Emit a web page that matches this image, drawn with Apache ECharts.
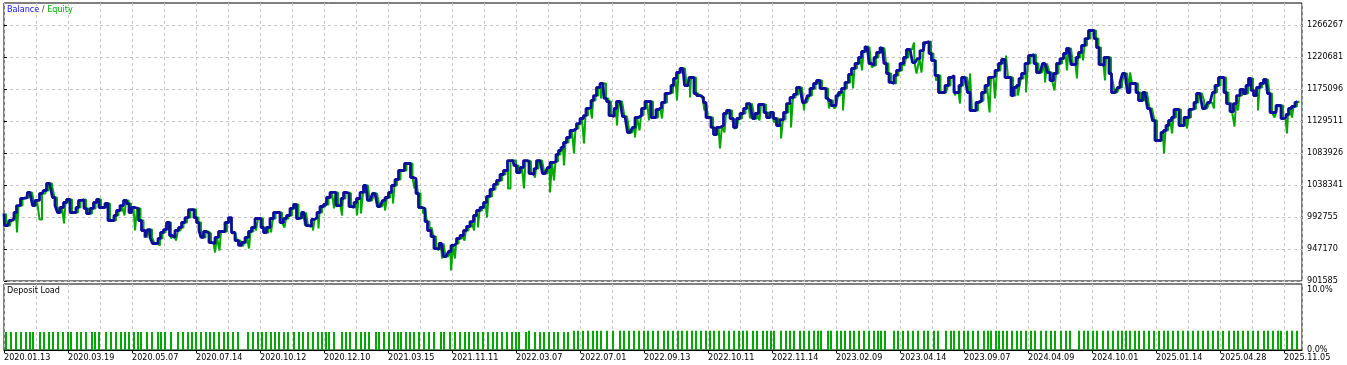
<!DOCTYPE html>
<html><head><meta charset="utf-8">
<script src="https://cdn.jsdelivr.net/npm/echarts@6/dist/echarts.min.js"></script>
<style>html,body{margin:0;padding:0;background:#fff;}#c{width:1347px;height:365px;}</style>
</head><body><div id="c"></div><script>
// x positions are deal-sequence positions along the chart
const xTickLabels = ['2020.01.13','2020.03.19','2020.05.07','2020.07.14','2020.10.12','2020.12.10','2021.03.15','2021.11.11','2022.03.07','2022.07.01','2022.09.13','2022.10.11','2022.11.14','2023.02.09','2023.04.14','2023.09.07','2024.04.09','2024.10.01','2025.01.14','2025.04.28','2025.11.05'];
const xTickPos = [0,64,128,192,256,320,384,448,512,576,640,704,768,832,896,960,1024,1088,1152,1216,1280];
const yTickValues = [901585,947170,992755,1038341,1083926,1129511,1175096,1220681,1266267];
const loadTickValues = [0,10];

const balance = [
[0,997700],[1,980600],[4,980600],[6,987800],[9,990600],[11,999200],[14,1009100],[19,1019100],[23,1020500],[24,1027700],
[28,1030500],[29,1009100],[33,1016300],[38,1026200],[41,1030500],[44,1040500],[48,1037600],[49,1020500],[53,1009100],[54,999200],
[58,1006300],[61,1013400],[64,1017700],[68,999200],[71,999200],[73,1006300],[76,1016300],[79,1017700],[81,1004900],[84,997700],
[88,1004900],[91,1013400],[94,1017700],[96,1006300],[99,1006300],[103,1012000],[105,987800],[109,987800],[111,994900],[114,1002000],
[118,1009100],[121,1016300],[124,1012000],[126,999200],[129,1006300],[133,1004900],[136,987800],[139,973500],[143,963600],[144,974900],
[148,963600],[149,955000],[153,955000],[155,962100],[158,970700],[161,974900],[164,984900],[167,966400],[169,963600],[173,973500],
[176,977800],[179,984900],[183,992000],[186,1003400],[189,1003400],[191,992000],[194,984900],[196,973500],[198,963600],[201,972100],
[204,969300],[206,956400],[209,955000],[213,963600],[216,972100],[219,972100],[223,984900],[226,992000],[229,970700],[233,959300],
[236,952200],[239,956400],[243,963600],[246,972100],[249,977800],[253,990600],[256,990600],[258,977800],[261,970700],[264,977800],
[268,990600],[271,999200],[274,999200],[278,984900],[281,990600],[284,994900],[288,1004900],[291,1010600],[294,990600],
[296,992000],[299,999200],[301,999200],[303,980600],[306,979200],[309,989200],[312,992000],[314,999200],[318,1007700],[321,1010600],
[324,1020500],[328,1027700],[331,1027700],[333,1009100],[336,1009100],[338,1019100],[341,1027700],[344,1026200],[346,1007700],[349,1006300],
[351,1013400],[354,1019100],[358,1027700],[361,1037600],[363,1039100],[364,1016300],[368,1016300],[369,1026200],[373,1026200],[374,1007700],
[378,1006300],[379,1016300],[383,1020500],[386,1027700],[389,1037600],[393,1046200],[396,1059000],[399,1059000],[402,1069000],[405,1069000],
[408,1049000],[411,1047600],[413,1026200],[416,1006300],[420,1004900],[422,986300],[425,973500],[429,965000],[431,947900],[434,946500],
[436,955000],[439,955000],[440,936500],[444,936500],[445,943600],[449,952200],[451,955000],[454,962100],[458,966400],[461,973500],
[464,979200],[468,986300],[471,994900],[474,1002000],[478,1006300],[481,1013400],[484,1022000],[488,1031900],[491,1039100],[494,1044800],
[498,1053300],[501,1059000],[506,1073200],[509,1073200],[511,1066100],[514,1056100],[518,1063300],[521,1073200],[524,1071800],[526,1054700],
[529,1053300],[531,1061800],[534,1073200],[538,1070400],[539,1054700],[543,1053300],[544,1063300],[548,1070400],[551,1071800],[553,1081800],
[556,1087500],[558,1091800],[561,1098900],[564,1106000],[568,1116000],[571,1118800],[574,1125900],[578,1133100],[581,1137300],[583,1147300],
[586,1148700],[588,1158700],[591,1165800],[594,1177200],[598,1182900],[599,1182900],[601,1161600],[604,1157300],[606,1137300],[609,1135900],
[611,1147300],[614,1157300],[618,1157300],[619,1135900],[623,1134500],[624,1113100],[628,1111700],[629,1120300],[633,1134500],[636,1137300],
[639,1147300],[643,1157300],[646,1157300],[648,1134500],[651,1134500],[653,1145900],[656,1148700],[659,1155900],[663,1168700],[666,1170100],
[668,1180100],[671,1190100],[674,1198600],[678,1204300],[680,1202900],[681,1180100],[684,1180100],[686,1191500],[689,1191500],[691,1168700],
[694,1165800],[698,1163000],[701,1155900],[703,1134500],[706,1134500],[708,1120300],[711,1110300],[714,1120300],[718,1123100],[721,1140200],
[724,1144500],[728,1133100],[731,1120300],[734,1133100],[738,1140200],[741,1147300],[744,1154400],[748,1154400],[749,1133100],[753,1140200],
[756,1153000],[759,1153000],[761,1141600],[764,1134500],[768,1141600],[771,1133100],[774,1123100],[778,1131600],[781,1141600],[784,1154400],
[788,1163000],[791,1167300],[794,1177200],[798,1177200],[799,1155900],[803,1154400],[804,1165800],[808,1175800],[811,1182900],[814,1187200],
[818,1175800],[821,1175800],[823,1161600],[826,1158700],[828,1151600],[831,1151600],[833,1165800],[836,1170100],[839,1175800],[843,1184400],
[846,1195800],[849,1204300],[853,1211400],[856,1220000],[859,1228500],[863,1235600],[864,1234200],[866,1211400],[869,1208600],[871,1220000],
[874,1227100],[878,1234200],[879,1232800],[881,1211400],[884,1197200],[886,1184400],[889,1182900],[891,1194300],[894,1201500],[898,1211400],
[901,1220000],[904,1231400],[908,1231400],[909,1212800],[913,1211400],[914,1218500],[918,1229900],[921,1241300],[924,1242800],[926,1225700],
[929,1215700],[933,1194300],[936,1170100],[939,1170100],[943,1180100],[946,1191500],[949,1194300],[951,1170100],[954,1170100],[956,1180100],
[959,1191500],[963,1191500],[964,1170100],[968,1144500],[971,1144500],[973,1155900],[976,1158700],[979,1170100],[983,1180100],[986,1191500],
[989,1192900],[993,1201500],[996,1211400],[999,1217100],[1003,1191500],[1006,1191500],[1008,1165800],[1011,1177200],[1014,1180100],[1016,1190100],
[1019,1197200],[1023,1211400],[1026,1222800],[1029,1224200],[1031,1211400],[1034,1198600],[1038,1198600],[1039,1211400],[1043,1211400],[1044,1198600],
[1048,1187200],[1051,1197200],[1054,1211400],[1058,1218500],[1061,1225700],[1064,1232800],[1066,1234200],[1068,1210000],[1071,1210000],[1073,1220000],
[1076,1227100],[1079,1237100],[1083,1247000],[1086,1258400],[1089,1258400],[1091,1247000],[1094,1234200],[1096,1210000],[1099,1208600],[1101,1220000],
[1104,1220000],[1106,1197200],[1109,1170100],[1113,1170100],[1114,1177200],[1118,1184400],[1119,1197200],[1123,1197200],[1124,1170100],[1128,1182900],
[1131,1182900],[1133,1170100],[1136,1158700],[1141,1170100],[1143,1168700],[1144,1147300],[1148,1145900],[1149,1130200],[1153,1101700],[1156,1101700],
[1158,1113100],[1161,1116000],[1163,1123100],[1166,1130200],[1169,1134500],[1171,1145900],[1174,1145900],[1176,1123100],[1179,1123100],[1181,1134500],
[1184,1134500],[1186,1145900],[1189,1147300],[1191,1155900],[1194,1168700],[1198,1168700],[1199,1147300],[1203,1147300],[1204,1155900],[1208,1158700],
[1209,1170100],[1213,1180100],[1216,1191500],[1219,1191500],[1221,1170100],[1224,1154400],[1228,1143000],[1231,1154400],[1234,1165800],[1238,1174400],
[1241,1168700],[1243,1180100],[1246,1190100],[1248,1173000],[1251,1165800],[1254,1177200],[1258,1182900],[1261,1188600],[1263,1188600],[1264,1168700],
[1268,1141600],[1271,1141600],[1273,1151600],[1276,1151600],[1278,1133100],[1281,1134500],[1283,1138800],[1286,1147300],[1289,1150200],[1293,1155900],
[1294,1157300]
];

// equity readings where it departs from balance (drawdown spikes, a few floating-profit spikes)
const equityDips = [
[11,970700],[34,989200],[58,983500],[119,994900],[129,973500],[153,952200],[166,962100],[171,959300],[196,963600],[209,942200],
[214,945000],[226,969300],[243,947900],[251,973500],[266,970700],[279,977800],[299,980600],[308,973500],[313,976400],[328,1004900],
[336,994900],[351,994900],[356,997700],[379,1002000],[388,1012000],[409,1033400],[418,997700],[426,977800],[436,933600],[445,916500],
[449,933600],[459,959300],[468,973500],[473,977800],[481,992000],[503,1033400],[518,1033400],[529,1049000],[544,1027700],[548,1044800],
[558,1066100],[568,1083200],[578,1097500],[586,1133100],[596,1161600],[611,1123100],[629,1106000],[634,1116000],[643,1130200],[656,1133100],
[671,1158700],[684,1163000],[699,1144500],[714,1090300],[719,1113100],[729,1118800],[744,1133100],[754,1130200],[768,1127400],[776,1104600],
[786,1120300],[798,1144500],[823,1147300],[829,1147300],[838,1144500],[848,1175800],[856,1201500],[866,1205700],[899,1208600],[908,1241300],
[912,1197200],[917,1198600],[931,1187200],[941,1168700],[949,1165800],[954,1154400],[964,1197200],[984,1141600],[989,1161600],[1001,1222800],
[1013,1165800],[1021,1170100],[1039,1184400],[1049,1173000],[1061,1201500],[1071,1190100],[1078,1215700],[1099,1187200],[1108,1184400],[1118,1182900],
[1124,1198600],[1158,1083200],[1166,1111700],[1181,1118800],[1198,1158700],[1208,1147300],[1229,1121700],[1233,1144500],[1253,1144500],[1269,1134500],
[1281,1111700],[1286,1134500]
];

const loadX = [
2,7,12,17,22,26,29,36,40,45,49,54,59,64,67,73,77,82,88,91,
95,102,107,112,117,121,125,130,134,137,143,148,154,157,161,167,174,179,184,188,
192,197,202,206,210,215,220,224,229,234,244,249,254,258,262,267,271,275,280,284,
290,295,299,304,309,314,318,322,325,330,338,342,346,352,357,361,365,372,375,380,
385,390,394,397,402,406,410,415,420,425,430,
437,440,446,451,456,461,465,470,474,479,484,489,493,498,503,508,512,515,522,525,
531,536,540,545,550,554,560,564,
570,574,579,584,589,593,597,603,609,616,620,625,630,635,640,644,649,654,660,664,
669,674,678,683,688,692,697,702,706,710,715,720,725,730,735,739,743,749,753,759,
763,767,770,777,782,786,790,796,800,805,810,814,817,824,827,833,837,841,846,850,
855,860,865,870,874,
877,881,890,894,899,904,909,914,920,924,930,934,942,947,950,955,960,964,969,974,
980,984,987,992,995,999,1003,1008,1013,1017,1022,1027,1031,1037,1042,1047,1051,1057,1062,1066,
1075,1080,1084,1089,1093,1099,1104,1109,1114,1118,1122,1126,1131,1135,1140,1145,1150,1155,1160,1164,
1169,1174,1179,1184,1189,1194,1199,1204,1209,1214,1219,1225,1230,1234,1239,1244,1249,1254,1260,1264,
1269,1274,1277,1283,1288,1293
];
const loadPct = [
3,3,3,3,3,3,3,3,3,3,3,3,3,3,3,3,3,3,3,3,
3,3,3,3,3,3,3,3,3,3,3,3,3,3,3,3,3,3,3,3,
3,3,3,3,3,3,3,3,3,3,3,3,3,3,3,3,3,3,3,3,
3,3,3,3,3,3,3,3,3,3,3,3,3,3,3,3,3,3,3,3,
3,3,3,3,3,3,3,3,3,3,3,
3,3,3,3,3,3,3,3,3,3,3,3,3,3,3,3,3,3,3,3.2,
3,3,3,3,3,3,3,3,
3.2,3.2,3.2,3.2,3.2,3.2,3.2,3.2,3.2,3.2,3.2,3.2,3.2,3.2,3.2,3.2,3.2,3.2,3.2,3.2,
3.2,3.2,3.2,3.2,3.2,3.2,3.2,3.2,3.2,3.2,3.2,3.2,3.2,3.2,3.2,3.2,3.2,3.2,3.2,3.2,
3.2,3.2,3.2,3.2,3.2,3.2,3.2,3.2,3.2,3.2,3.2,3.2,3.2,3.2,3.2,3.2,3.2,3.2,3.2,3.2,
3.2,3.2,3.2,3.2,3.2,
3.2,3.2,3.2,3.2,3.2,3.2,3.2,3.2,3.2,3.2,3.2,3.2,3.2,3.2,3.2,3.2,3.2,3.2,3.2,3.2,
3.2,3.2,3.2,3.2,3.2,3.2,3.2,3.2,3.2,3.2,3.2,3.2,3.2,3.2,3.2,3.2,3.2,3.2,3.2,3.2,
3.2,3.2,3.2,3.2,3.2,3.2,3.2,3.2,3.2,3.2,3.2,3.2,3.2,3.2,3.2,3.2,3.2,3.2,3.2,3.2,
3.2,3.2,3.2,3.2,3.2,3.2,3.2,3.2,3.2,3.2,3.2,3.2,3.2,3.2,3.2,3.2,3.2,3.2,3.2,3.2,
3.2,3.2,3.2,3.2,3.2,3.2
];

const equity = balance.concat(equityDips).sort((a, b) => a[0] - b[0]);
const load = loadX.map((x, i) => [x, loadPct[i]]);

const FONT = "'DejaVu Sans Condensed','DejaVu Sans','Liberation Sans',sans-serif";
const GRIDC = '#c6c6c6';
const dashed = { show: true, lineStyle: { color: GRIDC, type: [3, 3], width: 1 } };

const chart = echarts.init(document.getElementById('c'), null, { renderer: 'canvas' });
chart.setOption({
  animation: false,
  backgroundColor: '#ffffff',
  grid: [
    { left: 4, right: 45, top: 3, height: 278, show: true, borderColor: '#000', borderWidth: 1, backgroundColor: 'transparent' },
    { left: 4, right: 45, top: 284, height: 66, show: true, borderColor: '#000', borderWidth: 1, backgroundColor: 'transparent' }
  ],
  xAxis: [
    { gridIndex: 0, type: 'value', position: 'top', min: 0, max: 1298, interval: 32,
      axisLine: { show: false }, axisTick: { show: false }, axisLabel: { show: false }, splitLine: dashed },
    { gridIndex: 0, type: 'value', position: 'bottom', min: -2, max: 1296, show: false, splitLine: { show: false } },
    { gridIndex: 1, type: 'value', position: 'top', min: 0, max: 1298, interval: 32,
      axisLine: { show: false }, axisTick: { show: false }, axisLabel: { show: false }, splitLine: dashed },
    { gridIndex: 1, type: 'value', position: 'bottom', min: 0, max: 1298,
      axisLine: { show: true, lineStyle: { color: '#000', width: 1 } },
      axisTick: { show: true, length: 3, customValues: xTickPos, lineStyle: { color: '#000' } },
      axisLabel: { customValues: xTickPos, formatter: v => xTickLabels[xTickPos.indexOf(v)] || '',
        align: 'left', margin: 3, fontSize: 9, color: '#000', fontFamily: FONT },
      splitLine: { show: false } }
  ],
  yAxis: [
    { gridIndex: 0, type: 'value', position: 'right', min: 901585, max: 1297608,
      axisLine: { show: false },
      axisTick: { show: true, length: 3, customValues: yTickValues, lineStyle: { color: '#000' } },
      axisLabel: { customValues: yTickValues, formatter: v => String(Math.round(v)), margin: 5,
        fontSize: 9, color: '#000', fontFamily: FONT },
      splitLine: dashed },
    { gridIndex: 1, type: 'value', position: 'right', min: 0, max: 11,
      axisLine: { show: false },
      axisTick: { show: false },
      axisLabel: { customValues: loadTickValues, formatter: v => v.toFixed(1) + '%', margin: 5,
        fontSize: 9, color: '#000', fontFamily: FONT },
      splitLine: { show: false } }
  ],
  series: [
    { type: 'line', name: 'Equity', xAxisIndex: 1, yAxisIndex: 0, data: equity, step: 'middle',
      symbol: 'none', lineStyle: { color: '#00a800', width: 2 }, z: 2 },
    { type: 'line', name: 'Balance', xAxisIndex: 0, yAxisIndex: 0, data: balance, step: 'middle',
      symbol: 'none', lineStyle: { color: '#0e0e9c', width: 2.8 }, z: 3 },
    { type: 'bar', name: 'Deposit Load', xAxisIndex: 3, yAxisIndex: 1, data: load, barWidth: 2,
      itemStyle: { color: '#00a800' }, z: 2 }
  ],
  graphic: [
    { type: 'text', left: 7, top: 5, z: 10, style: {
        text: '{b|Balance} {s|/} {e|Equity}',
        fontSize: 9, fontFamily: FONT,
        rich: { b: { fill: '#1010ff', fontSize: 9, fontFamily: FONT },
                s: { fill: '#404040', fontSize: 9, fontFamily: FONT },
                e: { fill: '#00b400', fontSize: 9, fontFamily: FONT } } } },
    { type: 'text', left: 7, top: 286, z: 10, style: { text: 'Deposit Load', fill: '#000', fontSize: 9, fontFamily: FONT } }
  ]
});
</script></body></html>
